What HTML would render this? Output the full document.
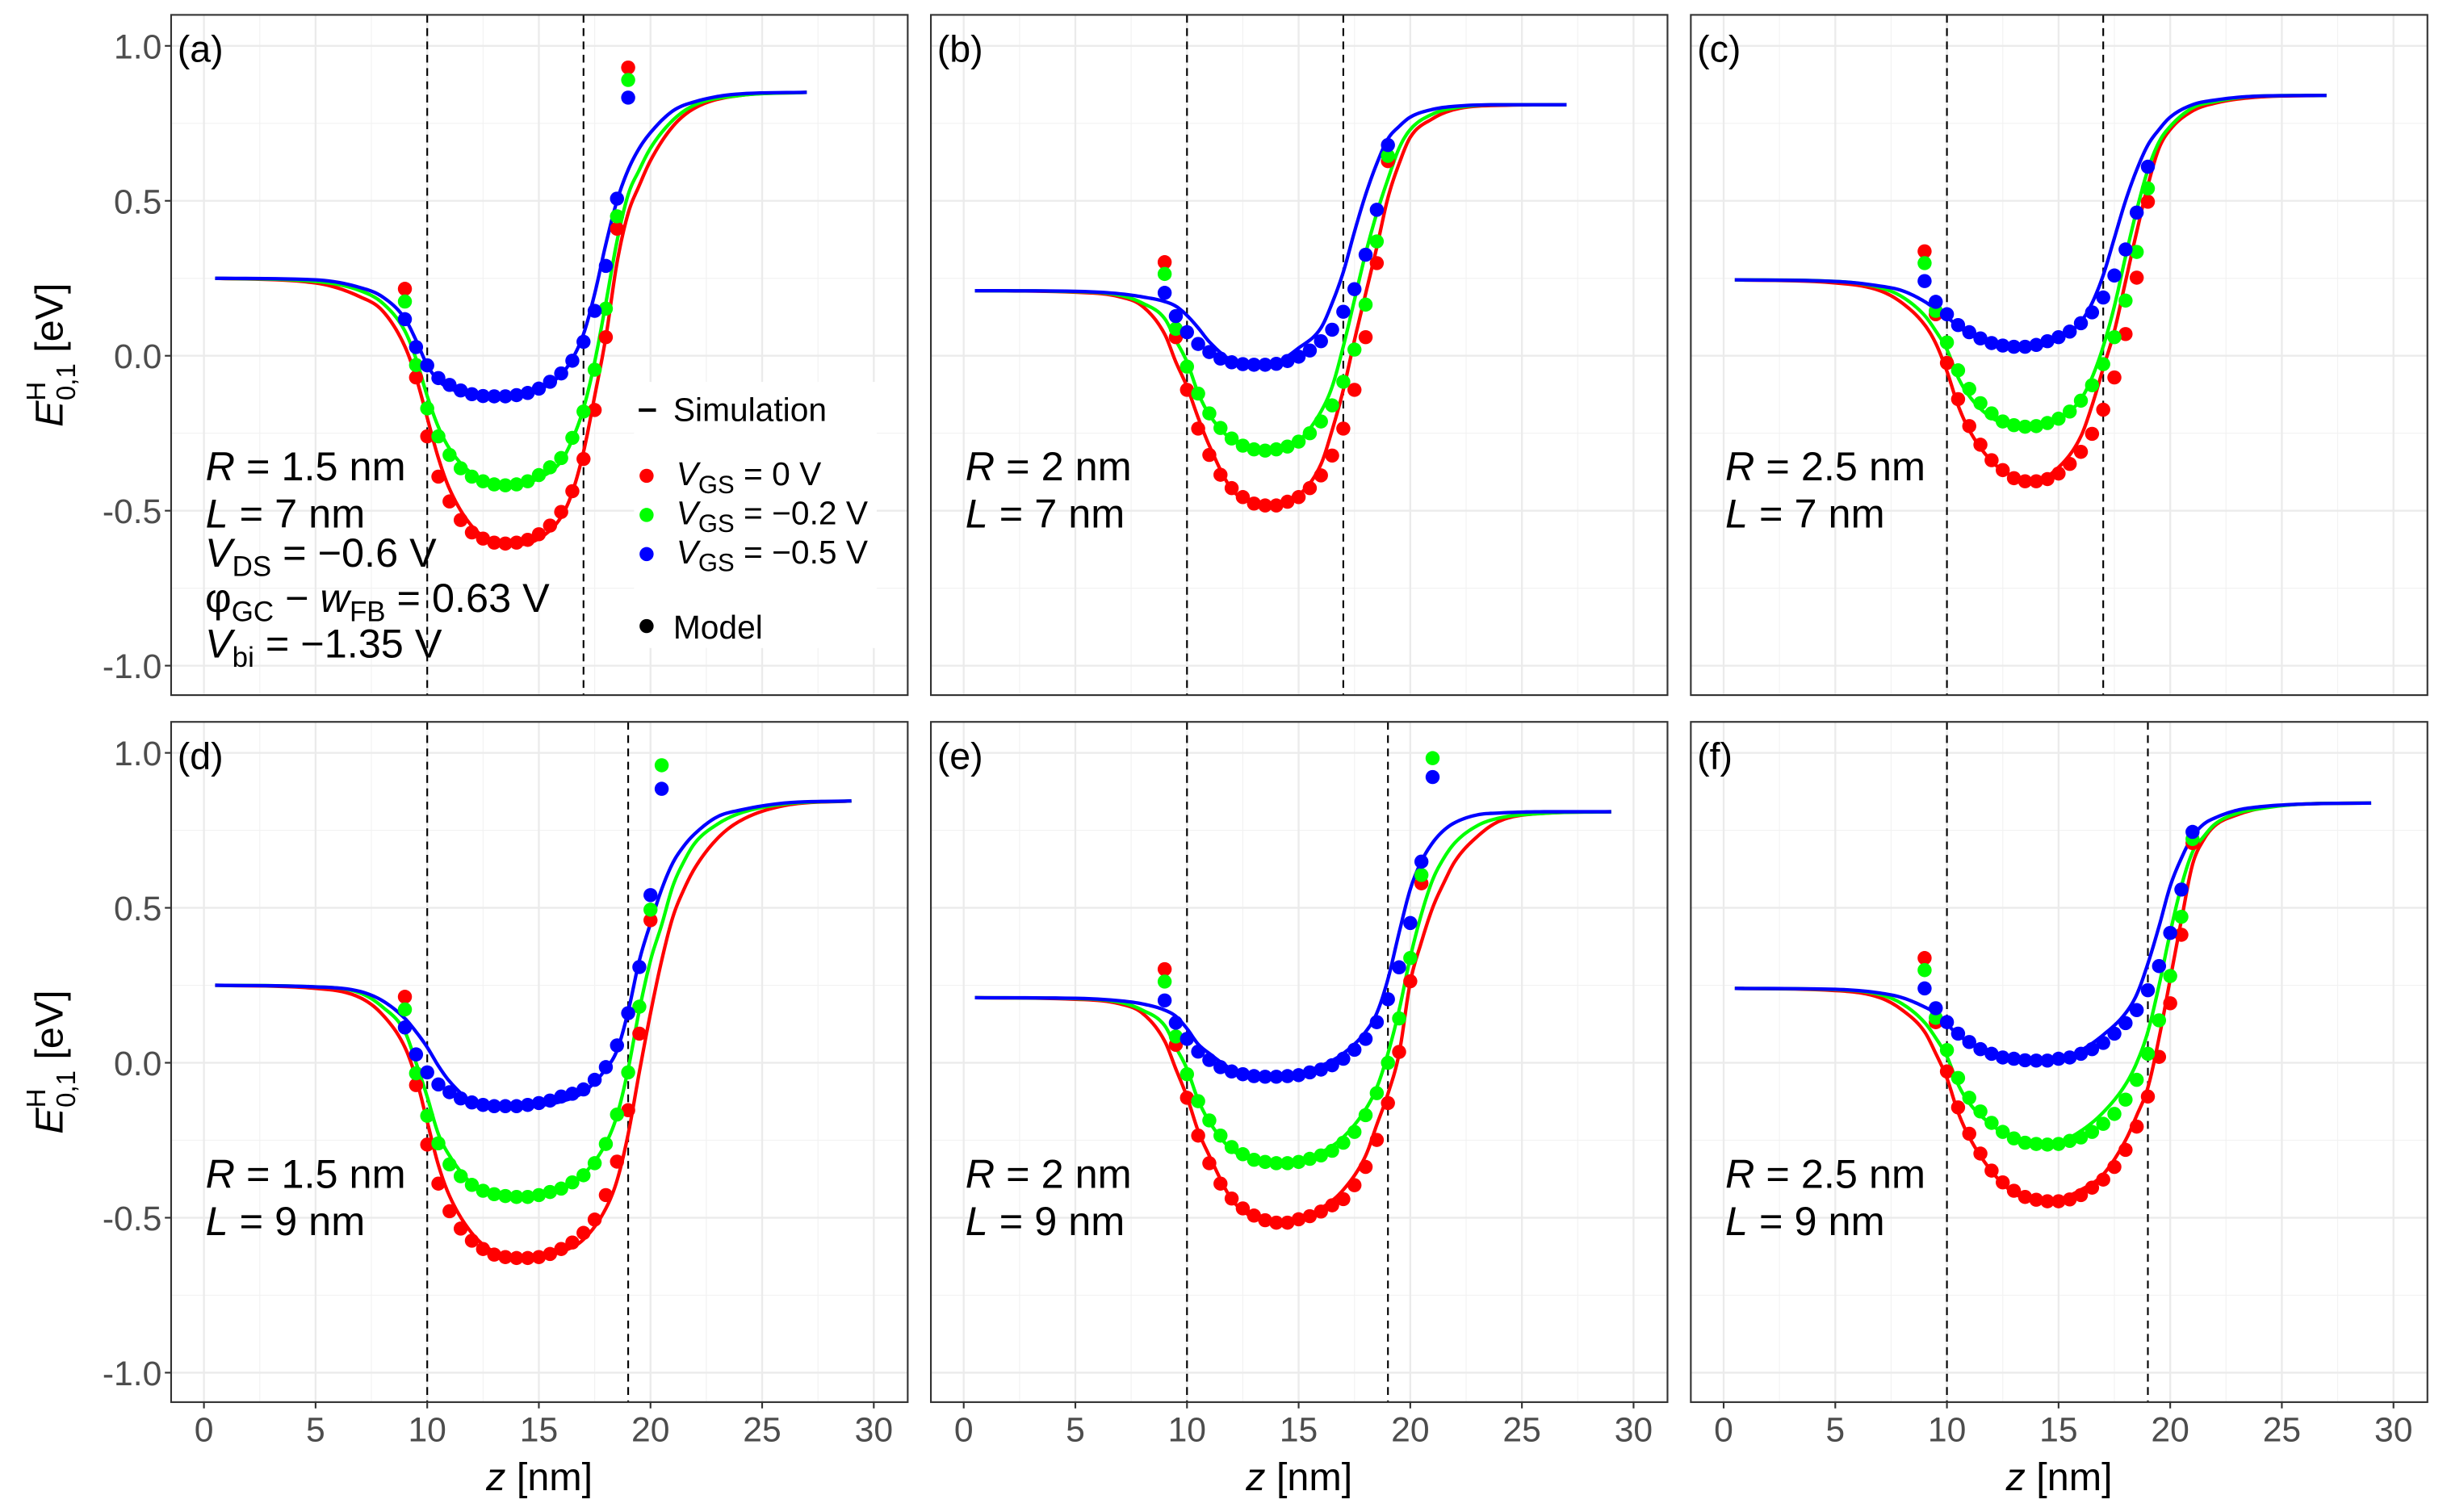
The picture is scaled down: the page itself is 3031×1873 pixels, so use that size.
<!DOCTYPE html>
<html><head><meta charset="utf-8"><title>E01H profiles</title>
<style>html,body{margin:0;padding:0;background:#fff}svg{display:block}</style></head>
<body>
<svg id="chart" xmlns="http://www.w3.org/2000/svg" width="3031" height="1873" viewBox="0 0 1563 966" preserveAspectRatio="none" font-family="'Liberation Sans', sans-serif"></svg>
<script>
// ---- data ----
const zDots7 = [9,9.5,10,10.5,11,11.5,12,12.5,13,13.5,14,14.5,15,15.5,16,16.5,17,17.5,18,18.5,19];
const zDots9 = [9,9.5,10,10.5,11,11.5,12,12.5,13,13.5,14,14.5,15,15.5,16,16.5,17,17.5,18,18.5,19,19.5,20,20.5,21];
const zCurve7 = [0.5,5,7,8,9,9.5,10,10.5,11,12,13,14,15,16,16.5,17,17.5,18,18.5,19,19.5,20,21,22,24,27];
const zCurve9 = [0.5,5,7,8,9,9.5,10,10.5,11,12,13,14,15,16,17,18,18.5,19,19.5,20,20.5,21,21.5,22,23,24,26,29];
const gateEdges7 = [10,17];
const gateEdges9 = [10,19];
const xTicks = [0,5,10,15,20,25,30];
const yTicks = [1.0,0.5,0.0,-0.5,-1.0];
const yTickLabels = ["1.0","0.5","0.0","-0.5","-1.0"];

// panel a
const aCurveRed   = [0.25,0.235,0.19,0.145,0.03,-0.07,-0.2,-0.33,-0.43,-0.55,-0.6,-0.61,-0.59,-0.52,-0.44,-0.31,-0.13,0.06,0.3,0.46,0.55,0.63,0.74,0.8,0.84,0.85];
const aCurveGreen = [0.25,0.24,0.21,0.17,0.08,-0.01,-0.13,-0.23,-0.3,-0.38,-0.41,-0.415,-0.395,-0.34,-0.27,-0.17,-0.02,0.17,0.37,0.52,0.6,0.67,0.76,0.81,0.84,0.85];
const aCurveBlue  = [0.25,0.245,0.22,0.19,0.12,0.05,-0.03,-0.08,-0.105,-0.125,-0.135,-0.13,-0.11,-0.06,-0.01,0.07,0.2,0.36,0.5,0.6,0.67,0.72,0.79,0.82,0.845,0.85];
const aDotsRed   = [0.216,-0.07,-0.26,-0.39,-0.47,-0.53,-0.57,-0.59,-0.603,-0.606,-0.603,-0.594,-0.576,-0.548,-0.504,-0.437,-0.333,-0.175,0.06,0.41,0.93];
const aDotsGreen = [0.175,-0.03,-0.17,-0.26,-0.32,-0.363,-0.39,-0.405,-0.415,-0.418,-0.415,-0.405,-0.385,-0.36,-0.33,-0.265,-0.18,-0.045,0.152,0.45,0.89];
const aDotsBlue  = [0.118,0.028,-0.031,-0.072,-0.094,-0.112,-0.124,-0.13,-0.131,-0.131,-0.127,-0.12,-0.106,-0.084,-0.057,-0.016,0.045,0.145,0.29,0.507,0.833];
// panel b
const bCurveRed   = [0.21,0.205,0.19,0.16,0.07,-0.02,-0.1,-0.2,-0.29,-0.43,-0.475,-0.48,-0.45,-0.35,-0.24,-0.11,0.05,0.2,0.35,0.51,0.62,0.705,0.765,0.795,0.808,0.81];
const bCurveGreen = [0.21,0.207,0.195,0.17,0.12,0.05,-0.02,-0.12,-0.19,-0.27,-0.3,-0.305,-0.275,-0.18,-0.1,0.03,0.18,0.33,0.46,0.57,0.67,0.73,0.78,0.8,0.81,0.81];
const bCurveBlue  = [0.21,0.208,0.2,0.19,0.175,0.16,0.13,0.09,0.045,-0.015,-0.027,-0.02,0.025,0.09,0.17,0.27,0.4,0.52,0.62,0.7,0.74,0.77,0.795,0.805,0.81,0.81];
const bDotsRed   = [0.302,0.06,-0.11,-0.235,-0.32,-0.384,-0.427,-0.456,-0.477,-0.483,-0.483,-0.471,-0.456,-0.427,-0.386,-0.322,-0.235,-0.11,0.06,0.299,0.628];
const bDotsGreen = [0.264,0.087,-0.035,-0.122,-0.186,-0.233,-0.267,-0.29,-0.302,-0.306,-0.302,-0.293,-0.277,-0.25,-0.212,-0.16,-0.084,0.02,0.165,0.369,0.645];
const bDotsBlue  = [0.203,0.128,0.076,0.038,0.012,-0.009,-0.021,-0.027,-0.029,-0.029,-0.026,-0.017,-0.003,0.017,0.047,0.084,0.142,0.215,0.326,0.471,0.68];
// panel c
const cCurveRed   = [0.245,0.235,0.21,0.17,0.1,0.04,-0.05,-0.16,-0.24,-0.34,-0.39,-0.4,-0.36,-0.26,-0.16,-0.04,0.08,0.24,0.4,0.55,0.67,0.73,0.79,0.815,0.835,0.84];
const cCurveGreen = [0.245,0.24,0.22,0.19,0.13,0.08,0.02,-0.07,-0.13,-0.2,-0.225,-0.23,-0.205,-0.14,-0.07,0.03,0.16,0.32,0.47,0.6,0.69,0.74,0.8,0.82,0.838,0.84];
const cCurveBlue  = [0.245,0.24,0.225,0.21,0.175,0.15,0.125,0.095,0.07,0.04,0.03,0.03,0.055,0.11,0.17,0.26,0.38,0.5,0.6,0.68,0.73,0.77,0.81,0.825,0.838,0.84];
const cDotsRed   = [0.337,0.134,-0.023,-0.14,-0.227,-0.287,-0.337,-0.369,-0.395,-0.405,-0.405,-0.398,-0.38,-0.349,-0.31,-0.252,-0.174,-0.07,0.07,0.252,0.497];
const cDotsGreen = [0.299,0.145,0.043,-0.047,-0.107,-0.153,-0.186,-0.212,-0.224,-0.229,-0.227,-0.217,-0.203,-0.18,-0.145,-0.095,-0.027,0.06,0.178,0.335,0.54];
const cDotsBlue  = [0.241,0.174,0.134,0.099,0.076,0.056,0.041,0.033,0.029,0.029,0.035,0.047,0.06,0.078,0.105,0.14,0.188,0.259,0.343,0.462,0.61];
// panel d
const dCurveRed   = [0.25,0.24,0.21,0.155,0.05,-0.05,-0.19,-0.33,-0.43,-0.55,-0.61,-0.625,-0.625,-0.61,-0.57,-0.47,-0.38,-0.23,-0.03,0.16,0.33,0.47,0.56,0.63,0.724,0.78,0.83,0.845];
const dCurveGreen = [0.25,0.245,0.225,0.18,0.1,0.0,-0.11,-0.23,-0.3,-0.39,-0.425,-0.433,-0.425,-0.41,-0.36,-0.26,-0.17,-0.02,0.17,0.33,0.445,0.57,0.65,0.71,0.77,0.805,0.835,0.845];
const dCurveBlue  = [0.25,0.245,0.23,0.2,0.143,0.1,0.05,-0.01,-0.06,-0.125,-0.14,-0.142,-0.138,-0.125,-0.095,-0.02,0.04,0.166,0.33,0.45,0.56,0.645,0.7,0.74,0.794,0.815,0.838,0.845];
const dDotsRed   = [0.213,-0.072,-0.264,-0.39,-0.479,-0.535,-0.574,-0.601,-0.619,-0.627,-0.63,-0.63,-0.627,-0.617,-0.601,-0.58,-0.549,-0.506,-0.427,-0.319,-0.153,0.094,0.46,null,null];
const dDotsGreen = [0.172,-0.034,-0.171,-0.26,-0.328,-0.366,-0.394,-0.413,-0.424,-0.43,-0.433,-0.433,-0.427,-0.417,-0.406,-0.386,-0.363,-0.324,-0.262,-0.167,-0.031,0.181,0.494,0.96,null];
const dDotsBlue  = [0.114,0.027,-0.031,-0.07,-0.095,-0.115,-0.128,-0.136,-0.14,-0.14,-0.14,-0.136,-0.13,-0.122,-0.109,-0.1,-0.086,-0.055,-0.014,0.056,0.16,0.309,0.541,0.884,null];
// panel e
const eCurveRed   = [0.21,0.205,0.19,0.16,0.07,-0.02,-0.11,-0.22,-0.3,-0.44,-0.5,-0.515,-0.505,-0.47,-0.41,-0.3,-0.2,-0.1,0.03,0.26,0.39,0.5,0.58,0.65,0.73,0.78,0.805,0.81];
const eCurveGreen = [0.21,0.207,0.195,0.17,0.12,0.05,-0.02,-0.12,-0.19,-0.28,-0.315,-0.325,-0.32,-0.29,-0.24,-0.15,-0.08,0.03,0.17,0.34,0.48,0.59,0.66,0.71,0.765,0.79,0.805,0.81];
const eCurveBlue  = [0.21,0.208,0.2,0.19,0.17,0.15,0.11,0.06,0.03,-0.02,-0.04,-0.045,-0.035,-0.01,0.03,0.1,0.16,0.27,0.42,0.56,0.65,0.71,0.75,0.775,0.8,0.806,0.81,0.81];
const eDotsRed   = [0.302,0.058,-0.113,-0.235,-0.324,-0.39,-0.438,-0.47,-0.493,-0.508,-0.516,-0.516,-0.505,-0.495,-0.48,-0.46,-0.44,-0.395,-0.336,-0.249,-0.13,0.035,0.263,0.579,null];
const eDotsGreen = [0.262,0.085,-0.037,-0.124,-0.186,-0.235,-0.272,-0.295,-0.313,-0.32,-0.324,-0.324,-0.32,-0.31,-0.299,-0.284,-0.258,-0.223,-0.169,-0.098,0.0,0.143,0.338,0.606,0.983];
const eDotsBlue  = [0.201,0.129,0.077,0.036,0.009,-0.014,-0.028,-0.037,-0.043,-0.045,-0.045,-0.043,-0.04,-0.031,-0.022,-0.008,0.013,0.042,0.077,0.131,0.205,0.308,0.451,0.649,0.922];
// panel f
const fCurveRed   = [0.24,0.233,0.21,0.17,0.1,0.03,-0.05,-0.16,-0.24,-0.35,-0.42,-0.445,-0.44,-0.41,-0.36,-0.25,-0.17,-0.08,0.08,0.27,0.46,0.64,0.72,0.765,0.8,0.82,0.835,0.838];
const fCurveGreen = [0.24,0.236,0.22,0.19,0.13,0.08,0.02,-0.07,-0.13,-0.2,-0.245,-0.26,-0.255,-0.22,-0.16,-0.07,0.0,0.1,0.25,0.42,0.57,0.68,0.73,0.77,0.805,0.82,0.835,0.838];
const fCurveBlue  = [0.24,0.237,0.225,0.21,0.18,0.16,0.125,0.09,0.065,0.03,0.012,0.006,0.012,0.04,0.09,0.16,0.22,0.32,0.44,0.57,0.66,0.73,0.77,0.79,0.815,0.826,0.835,0.838];
const fDotsRed   = [0.338,0.131,-0.028,-0.144,-0.229,-0.293,-0.348,-0.386,-0.413,-0.433,-0.442,-0.447,-0.447,-0.441,-0.427,-0.403,-0.377,-0.336,-0.281,-0.206,-0.109,0.019,0.192,0.413,0.709];
const fDotsGreen = [0.299,0.145,0.041,-0.049,-0.113,-0.157,-0.194,-0.223,-0.244,-0.258,-0.262,-0.264,-0.262,-0.252,-0.241,-0.223,-0.197,-0.165,-0.119,-0.055,0.029,0.137,0.28,0.471,0.722];
const fDotsBlue  = [0.24,0.176,0.131,0.094,0.067,0.044,0.029,0.017,0.013,0.008,0.007,0.007,0.013,0.017,0.029,0.044,0.064,0.094,0.128,0.17,0.234,0.312,0.419,0.559,0.745];

const panelLabels = ["(a)","(b)","(c)","(d)","(e)","(f)"];
const rLabels = ["1.5","2","2.5","1.5","2","2.5"];
const lLabels = ["7","7","7","9","9","9"];

// ---- drawing ----
const NS = "http://www.w3.org/2000/svg";
const svg = document.getElementById("chart");
function el(tag, attrs, parent){const e=document.createElementNS(NS,tag);for(const k in attrs)e.setAttribute(k,attrs[k]);(parent||svg).appendChild(e);return e;}

const X0=-1.47, X1=31.52, Y0=-1.095, Y1=1.1;
const colLeft=[109.3,594.6,1080.0], PW=470.5, rowTop=[9.5,461.2], PH=434.6;
const COLORS={red:"#ff0000",green:"#00ff00",blue:"#0000ff"};

function monotone(xs, ys, n){
  const m=xs.length, d=[], s=[];
  for(let i=0;i<m-1;i++) d.push((ys[i+1]-ys[i])/(xs[i+1]-xs[i]));
  s[0]=d[0]; s[m-1]=d[m-2];
  for(let i=1;i<m-1;i++){ s[i]=(d[i-1]*d[i]<=0)?0:(d[i-1]+d[i])/2; }
  for(let i=0;i<m-1;i++){ if(d[i]===0){s[i]=0;s[i+1]=0;continue;} const a=s[i]/d[i],b=s[i+1]/d[i],h=a*a+b*b; if(h>9){const t=3/Math.sqrt(h);s[i]=t*a*d[i];s[i+1]=t*b*d[i];} }
  const out=[];
  for(let i=0;i<m-1;i++){ const h=xs[i+1]-xs[i];
    for(let k=0;k<n;k++){ const t=k/n,t2=t*t,t3=t2*t;
      const y=(2*t3-3*t2+1)*ys[i]+(t3-2*t2+t)*h*s[i]+(-2*t3+3*t2)*ys[i+1]+(t3-t2)*h*s[i+1];
      out.push([xs[i]+t*h,y]); } }
  out.push([xs[m-1],ys[m-1]]);
  return out;
}

const panels=[
 {c:0,r:0,zc:zCurve7,zd:zDots7,g:gateEdges7,cr:aCurveRed,cg:aCurveGreen,cb:aCurveBlue,dr:aDotsRed,dg:aDotsGreen,db:aDotsBlue},
 {c:1,r:0,zc:zCurve7,zd:zDots7,g:gateEdges7,cr:bCurveRed,cg:bCurveGreen,cb:bCurveBlue,dr:bDotsRed,dg:bDotsGreen,db:bDotsBlue},
 {c:2,r:0,zc:zCurve7,zd:zDots7,g:gateEdges7,cr:cCurveRed,cg:cCurveGreen,cb:cCurveBlue,dr:cDotsRed,dg:cDotsGreen,db:cDotsBlue},
 {c:0,r:1,zc:zCurve9,zd:zDots9,g:gateEdges9,cr:dCurveRed,cg:dCurveGreen,cb:dCurveBlue,dr:dDotsRed,dg:dDotsGreen,db:dDotsBlue},
 {c:1,r:1,zc:zCurve9,zd:zDots9,g:gateEdges9,cr:eCurveRed,cg:eCurveGreen,cb:eCurveBlue,dr:eDotsRed,dg:eDotsGreen,db:eDotsBlue},
 {c:2,r:1,zc:zCurve9,zd:zDots9,g:gateEdges9,cr:fCurveRed,cg:fCurveGreen,cb:fCurveBlue,dr:fDotsRed,dg:fDotsGreen,db:fDotsBlue}
];

panels.forEach((p,pi)=>{
  const L=colLeft[p.c], T=rowTop[p.r];
  const sx=z=>L+(z-X0)/(X1-X0)*PW;
  const sy=v=>T+(Y1-v)/(Y1-Y0)*PH;
  const g=el("g",{});
  
  
  el("rect",{x:L,y:T,width:PW,height:PH,fill:"#fff"},g);
  for(let z=2.5;z<31;z+=5){ el("line",{x1:sx(z),x2:sx(z),y1:T,y2:T+PH,stroke:"#f2f2f2","stroke-width":0.6},g); }
  for(let v=-0.75;v<1.1;v+=0.5){ el("line",{x1:L,x2:L+PW,y1:sy(v),y2:sy(v),stroke:"#f2f2f2","stroke-width":0.6},g); }
  const grid=el("g",{},g);
  
  
  xTicks.forEach(z=>el("line",{x1:sx(z),x2:sx(z),y1:T,y2:T+PH,stroke:"#ebebeb","stroke-width":1.2},grid));
  yTicks.forEach(v=>el("line",{x1:L,x2:L+PW,y1:sy(v),y2:sy(v),stroke:"#ebebeb","stroke-width":1.2},grid));
  p.g.forEach(z=>{
    const ln=el("line",{x1:sx(z),x2:sx(z),y1:T,y2:T+PH,stroke:"#000","stroke-width":1.1,"stroke-dasharray":"5,3.5"},g);
    
    
  });
  [["red",p.cr],["green",p.cg],["blue",p.cb]].forEach(([col,vals])=>{
    const pts=monotone(p.zc,vals,10);
    const d=pts.map((q,i)=>(i?"L":"M")+sx(q[0]).toFixed(2)+","+sy(q[1]).toFixed(2)).join("");
    const path=el("path",{d:d,fill:"none",stroke:COLORS[col],"stroke-width":2.2},g);
    
    
  });
  [["red",p.dr],["green",p.dg],["blue",p.db]].forEach(([col,vals])=>{
    const dg=el("g",{fill:COLORS[col]},g);
    
    
    vals.forEach((v,i)=>{ if(v===null)return;
      const c=el("circle",{cx:sx(p.zd[i]),cy:sy(v),r:4.5},dg);
      
      
    });
  });
  el("rect",{x:L,y:T,width:PW,height:PH,fill:"none",stroke:"#333","stroke-width":1.1},g);
  const pl=el("text",{x:L+4,y:T+30,"font-size":24,fill:"#000"},g); pl.textContent=panelLabels[pi];
  
  
  const base = p.r===0 ? 307 : 759;
  const ann=el("text",{x:L+22,y:base,"font-size":26,fill:"#000"},g);
  
  
  ann.innerHTML='<tspan font-style="italic">R</tspan> = '+rLabels[pi]+' nm';
  const ann2=el("text",{x:L+22,y:base+30,"font-size":26,fill:"#000"},g);
  
  
  ann2.innerHTML='<tspan font-style="italic">L</tspan> = '+lLabels[pi]+' nm';
  if(p.c===0){
    const ya=el("g",{},g);
    
    
    yTicks.forEach((v,i)=>{
      el("line",{x1:L-4,x2:L,y1:sy(v),y2:sy(v),stroke:"#333","stroke-width":1.1},ya);
      const t=el("text",{x:L-6,y:sy(v)+8,"font-size":22,fill:"#4d4d4d","text-anchor":"end"},ya);
      t.textContent=yTickLabels[i];
    });
    const yt=el("text",{transform:"translate(40,"+(T+PH/2)+") rotate(-90)","font-size":25,fill:"#000","text-anchor":"middle"},g);
    
    
    yt.innerHTML='<tspan font-style="italic">E</tspan><tspan font-size="17" dy="-11">H</tspan><tspan font-size="17" dx="-12" dy="19">0,1</tspan><tspan dy="-8"> [eV]</tspan>';
  }
  if(p.r===1){
    const xa=el("g",{},g);
    
    
    xTicks.forEach(z=>{
      el("line",{x1:sx(z),x2:sx(z),y1:T+PH,y2:T+PH+4,stroke:"#333","stroke-width":1.1},xa);
      const t=el("text",{x:sx(z),y:T+PH+25,"font-size":22,fill:"#4d4d4d","text-anchor":"middle"},xa);
      t.textContent=String(z);
    });
    const xt=el("text",{x:L+PW/2,y:952,"font-size":25,fill:"#000","text-anchor":"middle"},g);
    
    
    xt.innerHTML='<tspan font-style="italic">z</tspan> [nm]';
  }
});

const extra=[
 [362,'<tspan font-style="italic">V</tspan><tspan font-size="18" dy="6">DS</tspan><tspan dy="-6"> = −0.6 V</tspan>'],
 [391,'φ<tspan font-size="18" dy="6">GC</tspan><tspan dy="-6"> − </tspan><tspan font-style="italic">w</tspan><tspan font-size="18" dy="6">FB</tspan><tspan dy="-6"> = 0.63 V</tspan>'],
 [420,'<tspan font-style="italic">V</tspan><tspan font-size="18" dy="6">bi</tspan><tspan dy="-6"> = −1.35 V</tspan>']
];
extra.forEach(([y,h])=>{const t=el("text",{x:131,y:y,"font-size":26,fill:"#000"}); t.innerHTML=h;
  
  });

const lg=el("g",{"font-size":21,fill:"#000"});


el("rect",{x:405,y:244,width:155,height:170,fill:"#fff"},lg);
el("line",{x1:408,x2:419,y1:262,y2:262,stroke:"#000","stroke-width":2.2},lg);
let t=el("text",{x:430,y:269},lg); t.textContent="Simulation";
const legItems=[["red","0 V",304],["green","−0.2 V",329],["blue","−0.5 V",354]];
legItems.forEach(([c,lab,y])=>{
  const e=el("circle",{cx:413,cy:y,r:4.5,fill:COLORS[c]},lg);
  
  
  const tt=el("text",{x:432,y:y+6},lg);
  tt.innerHTML='<tspan font-style="italic">V</tspan><tspan font-size="16" dy="5">GS</tspan><tspan dy="-5"> = '+lab+'</tspan>';
});
el("circle",{cx:413,cy:400,r:4.5,fill:"#000"},lg);
t=el("text",{x:430,y:408},lg); t.textContent="Model";
</script>
</body></html>
